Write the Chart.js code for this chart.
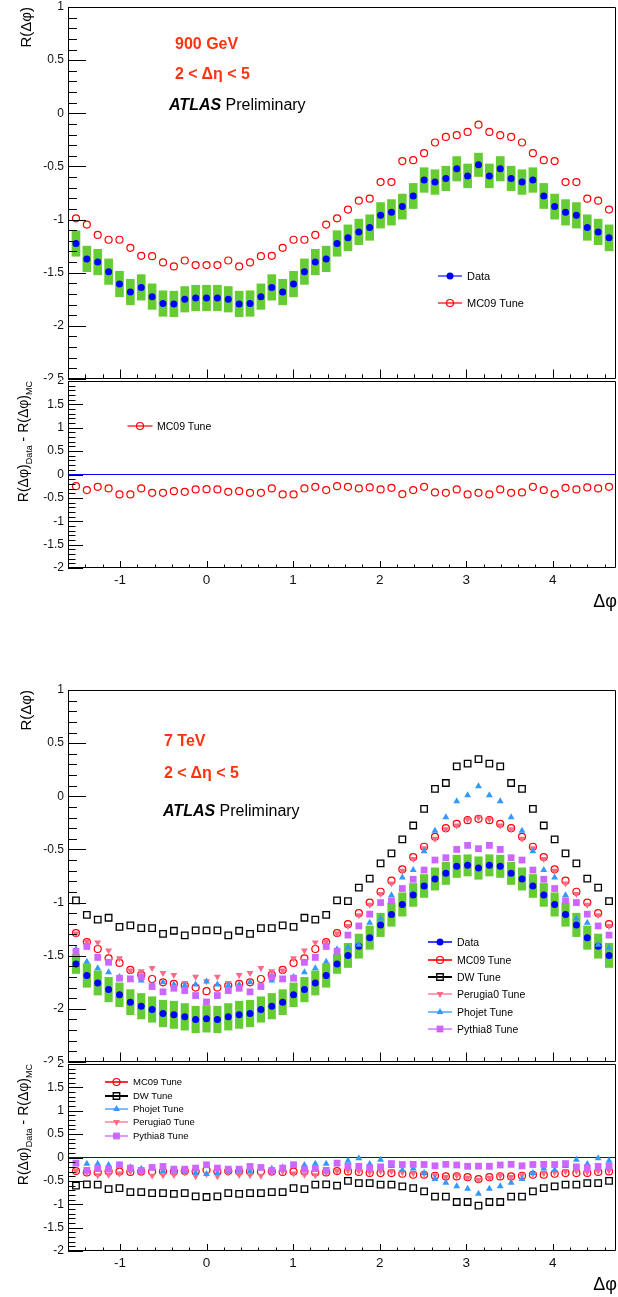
<!DOCTYPE html>
<html>
<head>
<meta charset="utf-8">
<title>R(Δφ) 900 GeV / 7 TeV</title>
<script src="https://cdn.jsdelivr.net/npm/chart.js@4.4.1/dist/chart.umd.min.js"></script>
<style>
  html, body { margin: 0; padding: 0; width: 618px; height: 1297px; overflow: hidden; background: #fff; }
  body { position: relative; font-family: "Liberation Sans", Arial, Helvetica, sans-serif; color: #000; }
  canvas { position: absolute; left: 0; }
  .ytitle { position: absolute; white-space: nowrap; line-height: 1; transform-origin: 0 0;
            transform: rotate(-90deg) translate(-100%, -50%); }
  .ytitle .sub { font-size: 9px; position: relative; top: 4px; }
  .xtitle { position: absolute; white-space: nowrap; line-height: 1; font-size: 18px; transform: translateY(-50%); }
  .note { position: absolute; white-space: nowrap; line-height: 1; font-size: 16px; transform: translateY(-50%); }
  .note.red { color: #ff3311; font-weight: bold; }
  .lg { position: absolute; white-space: nowrap; line-height: 1; transform: translateY(-50%); }
</style>
</head>
<body>

<canvas id="main900" width="618" height="380" style="top:0;width:618px;height:380px"></canvas>
<canvas id="diff900" width="618" height="240" style="top:380px;width:618px;height:240px"></canvas>
<canvas id="main7" width="618" height="380" style="top:683px;width:618px;height:380px"></canvas>
<canvas id="diff7" width="618" height="240" style="top:1063px;width:618px;height:240px"></canvas>

<!-- 900 GeV -->
<div class="ytitle" style="left:25px;top:7px;font-size:15px">R(Δφ)</div>
<div class="ytitle" style="left:23px;top:381px;font-size:14px">R(Δφ)<span class="sub">Data</span> - R(Δφ)<span class="sub">MC</span></div>
<div class="xtitle" style="right:1px;top:601px">Δφ</div>
<div class="note red" style="left:175px;top:44px">900 GeV</div>
<div class="note red" style="left:175px;top:74px">2 &lt; Δη &lt; 5</div>
<div class="note" style="left:169px;top:105px"><b><i>ATLAS</i></b> Preliminary</div>
<div class="lg" style="left:467px;top:276px;font-size:11px">Data</div>
<div class="lg" style="left:467px;top:303px;font-size:11px">MC09 Tune</div>
<div class="lg" style="left:157px;top:426px;font-size:10.5px">MC09 Tune</div>

<!-- 7 TeV -->
<div class="ytitle" style="left:25px;top:690px;font-size:15px">R(Δφ)</div>
<div class="ytitle" style="left:23px;top:1064px;font-size:14px">R(Δφ)<span class="sub">Data</span> - R(Δφ)<span class="sub">MC</span></div>
<div class="xtitle" style="right:1px;top:1284px">Δφ</div>
<div class="note red" style="left:164px;top:741px">7 TeV</div>
<div class="note red" style="left:164px;top:773px">2 &lt; Δη &lt; 5</div>
<div class="note" style="left:163px;top:811px"><b><i>ATLAS</i></b> Preliminary</div>
<div class="lg" style="left:457px;top:942px;font-size:10.5px">Data</div>
<div class="lg" style="left:457px;top:960px;font-size:10.5px">MC09 Tune</div>
<div class="lg" style="left:457px;top:977px;font-size:10.5px">DW Tune</div>
<div class="lg" style="left:457px;top:994px;font-size:10.5px">Perugia0 Tune</div>
<div class="lg" style="left:457px;top:1012px;font-size:10.5px">Phojet Tune</div>
<div class="lg" style="left:457px;top:1029px;font-size:10.5px">Pythia8 Tune</div>
<div class="lg" style="left:133px;top:1082px;font-size:9.5px">MC09 Tune</div>
<div class="lg" style="left:133px;top:1096px;font-size:9.5px">DW Tune</div>
<div class="lg" style="left:133px;top:1109px;font-size:9.5px">Phojet Tune</div>
<div class="lg" style="left:133px;top:1122px;font-size:9.5px">Perugia0 Tune</div>
<div class="lg" style="left:133px;top:1136px;font-size:9.5px">Pythia8 Tune</div>

<script>
// ---- axes ----
const X_MIN = -1.6;
const X_MAX = 4.73;
const xTicks = [-1, 0, 1, 2, 3, 4];
const mainYTicks = [-2.5, -2, -1.5, -1, -0.5, 0, 0.5, 1];
const diffYTicks = [-2, -1.5, -1, -0.5, 0, 0.5, 1, 1.5, 2];

// Δφ bin centres: 50 bins over [-π/2, 3π/2]
const N_BINS = 50;
const BIN_W = 2 * Math.PI / N_BINS;
const phi = Array.from({ length: N_BINS }, (_, i) => -Math.PI / 2 + (i + 0.5) * BIN_W);

// ---- 900 GeV ----
const data900 = [
  -1.225, -1.37, -1.40, -1.49, -1.607, -1.682, -1.638, -1.725, -1.79, -1.794, -1.75, -1.738,
  -1.738, -1.738, -1.75, -1.794, -1.79, -1.725, -1.638, -1.682, -1.607, -1.49, -1.40, -1.37, -1.225,
  -1.172, -1.116, -1.075, -0.96, -0.932, -0.878, -0.778, -0.628, -0.647, -0.613, -0.522, -0.589, -0.485,
  -0.589, -0.522, -0.613, -0.647, -0.628, -0.778, -0.878, -0.932, -0.96, -1.075, -1.116, -1.172
];
const sys900 = [
  0.12, 0.12, 0.12, 0.12, 0.12, 0.12, 0.12, 0.12, 0.12, 0.12, 0.12, 0.12,
  0.12, 0.12, 0.12, 0.12, 0.12, 0.12, 0.12, 0.12, 0.12, 0.12, 0.12, 0.12, 0.12,
  0.122, 0.12, 0.12, 0.12, 0.12, 0.118, 0.118, 0.116, 0.116, 0.115, 0.115, 0.112, 0.11,
  0.112, 0.115, 0.115, 0.116, 0.116, 0.118, 0.118, 0.12, 0.12, 0.12, 0.12, 0.122
];
const mc09_900 = [
  -0.988, -1.047, -1.144, -1.19, -1.19, -1.266, -1.341, -1.344, -1.403, -1.441, -1.385, -1.428,
  -1.428, -1.428, -1.385, -1.441, -1.403, -1.344, -1.341, -1.266, -1.19, -1.19, -1.144, -1.047, -0.988,
  -0.906, -0.822, -0.803, -0.647, -0.647, -0.45, -0.441, -0.375, -0.275, -0.222, -0.206, -0.175, -0.107,
  -0.175, -0.206, -0.222, -0.275, -0.375, -0.441, -0.45, -0.647, -0.647, -0.803, -0.822, -0.906
];
const diffMc09_900 = [
  -0.249, -0.334, -0.263, -0.298, -0.426, -0.426, -0.298, -0.391, -0.391, -0.356, -0.37, -0.32,
  -0.313, -0.32, -0.37, -0.356, -0.391, -0.391, -0.298, -0.426, -0.426, -0.298, -0.263, -0.334, -0.249,
  -0.263, -0.298, -0.277, -0.32, -0.284, -0.419, -0.334, -0.263, -0.384, -0.391, -0.32, -0.426, -0.391,
  -0.426, -0.32, -0.391, -0.384, -0.263, -0.334, -0.419, -0.284, -0.32, -0.277, -0.298, -0.263
];

// ---- 7 TeV ----
const data7 = [
  -1.577, -1.687, -1.756, -1.819, -1.868, -1.937, -1.975, -2.006, -2.044, -2.056, -2.075, -2.1,
  -2.094, -2.1, -2.075, -2.056, -2.044, -2.006, -1.975, -1.937, -1.868, -1.819, -1.756, -1.687, -1.577,
  -1.497, -1.41, -1.33, -1.21, -1.113, -1.018, -0.928, -0.844, -0.778, -0.725, -0.659, -0.65, -0.675,
  -0.65, -0.659, -0.725, -0.778, -0.844, -0.928, -1.018, -1.113, -1.21, -1.33, -1.41, -1.497
];
const sys7 = [
  0.09, 0.11, 0.114, 0.115, 0.112, 0.118, 0.12, 0.12, 0.125, 0.128, 0.125, 0.125,
  0.125, 0.125, 0.125, 0.128, 0.125, 0.12, 0.12, 0.118, 0.112, 0.115, 0.114, 0.11, 0.09,
  0.114, 0.114, 0.11, 0.11, 0.11, 0.11, 0.108, 0.108, 0.105, 0.105, 0.105, 0.10, 0.106,
  0.10, 0.105, 0.105, 0.105, 0.108, 0.108, 0.11, 0.11, 0.11, 0.11, 0.114, 0.114
];
const mc09_7 = [
  -1.287, -1.372, -1.437, -1.525, -1.568, -1.634, -1.681, -1.719, -1.75, -1.765, -1.781, -1.8,
  -1.834, -1.8, -1.781, -1.765, -1.75, -1.719, -1.681, -1.634, -1.568, -1.525, -1.437, -1.372, -1.287,
  -1.203, -1.1, -1.0, -0.898, -0.794, -0.687, -0.572, -0.475, -0.381, -0.3, -0.259, -0.225, -0.212,
  -0.225, -0.259, -0.3, -0.381, -0.475, -0.572, -0.687, -0.794, -0.898, -1.0, -1.1, -1.203
];
const dw7 = [
  -0.98, -1.116, -1.16, -1.143, -1.228, -1.215, -1.24, -1.24, -1.294, -1.265, -1.309, -1.262,
  -1.262, -1.262, -1.309, -1.265, -1.294, -1.24, -1.24, -1.215, -1.228, -1.143, -1.16, -1.116, -0.98,
  -0.987, -0.859, -0.775, -0.631, -0.537, -0.406, -0.275, -0.119, 0.069, 0.125, 0.281, 0.307, 0.35,
  0.307, 0.281, 0.125, 0.069, -0.119, -0.275, -0.406, -0.537, -0.631, -0.775, -0.859, -0.987
];
const perugia0_7 = [
  -1.29, -1.37, -1.375, -1.45, -1.525, -1.64, -1.647, -1.615, -1.662, -1.681, -1.756, -1.697,
  -1.74, -1.697, -1.756, -1.681, -1.662, -1.615, -1.647, -1.64, -1.525, -1.45, -1.375, -1.37, -1.29,
  -1.22, -1.12, -1.02, -0.92, -0.82, -0.70, -0.59, -0.49, -0.40, -0.31, -0.276, -0.216, -0.20,
  -0.216, -0.276, -0.31, -0.40, -0.49, -0.59, -0.70, -0.82, -0.92, -1.02, -1.12, -1.22
];
const phojet7 = [
  -1.44, -1.556, -1.618, -1.656, -1.70, -1.725, -1.734, -1.78, -1.75, -1.77, -1.78, -1.77,
  -1.743, -1.77, -1.78, -1.77, -1.75, -1.78, -1.734, -1.725, -1.70, -1.656, -1.618, -1.556, -1.44,
  -1.424, -1.397, -1.19, -1.15, -0.93, -0.765, -0.694, -0.518, -0.325, -0.197, -0.047, 0.009, 0.094,
  0.009, -0.047, -0.197, -0.325, -0.518, -0.694, -0.765, -0.93, -1.15, -1.19, -1.397, -1.424
];
const pythia8_7 = [
  -1.458, -1.413, -1.516, -1.562, -1.712, -1.718, -1.70, -1.79, -1.84, -1.806, -1.828, -1.875,
  -1.935, -1.875, -1.828, -1.806, -1.84, -1.79, -1.70, -1.718, -1.712, -1.562, -1.516, -1.413, -1.458,
  -1.306, -1.22, -1.109, -1.0, -0.984, -0.868, -0.781, -0.694, -0.6, -0.578, -0.5, -0.462, -0.493,
  -0.462, -0.5, -0.578, -0.6, -0.694, -0.781, -0.868, -0.984, -1.0, -1.109, -1.22, -1.306
];
const diffMc09_7 = [
  -0.29, -0.32, -0.32, -0.3, -0.3, -0.31, -0.3, -0.3, -0.3, -0.3, -0.29, -0.3,
  -0.27, -0.3, -0.29, -0.3, -0.3, -0.3, -0.3, -0.31, -0.3, -0.3, -0.32, -0.32, -0.29,
  -0.298, -0.31, -0.33, -0.334, -0.334, -0.348, -0.369, -0.369, -0.39, -0.405, -0.405, -0.42, -0.462,
  -0.42, -0.405, -0.405, -0.39, -0.369, -0.369, -0.348, -0.334, -0.334, -0.33, -0.31, -0.298
];
const diffDw7 = [
  -0.6, -0.575, -0.582, -0.675, -0.653, -0.739, -0.739, -0.76, -0.76, -0.78, -0.76, -0.83,
  -0.845, -0.83, -0.76, -0.78, -0.76, -0.76, -0.739, -0.739, -0.653, -0.675, -0.582, -0.575, -0.6,
  -0.5, -0.547, -0.547, -0.582, -0.582, -0.618, -0.653, -0.724, -0.835, -0.835, -0.952, -0.952, -1.03,
  -0.952, -0.952, -0.835, -0.835, -0.724, -0.653, -0.618, -0.582, -0.582, -0.547, -0.547, -0.5
];
const diffPhojet7 = [
  -0.135, -0.135, -0.135, -0.16, -0.168, -0.21, -0.24, -0.226, -0.294, -0.286, -0.295, -0.33,
  -0.355, -0.33, -0.295, -0.286, -0.294, -0.226, -0.24, -0.21, -0.168, -0.16, -0.135, -0.135, -0.135,
  -0.07, -0.014, -0.14, -0.05, -0.18, -0.27, -0.234, -0.33, -0.46, -0.54, -0.615, -0.67, -0.774,
  -0.67, -0.615, -0.54, -0.46, -0.33, -0.234, -0.27, -0.18, -0.05, -0.14, -0.014, -0.07
];
const diffPerugia0_7 = [
  -0.287, -0.317, -0.381, -0.369, -0.343, -0.297, -0.328, -0.391, -0.382, -0.375, -0.319, -0.403,
  -0.354, -0.403, -0.319, -0.375, -0.382, -0.391, -0.328, -0.297, -0.343, -0.369, -0.381, -0.317, -0.287,
  -0.277, -0.29, -0.31, -0.29, -0.293, -0.318, -0.338, -0.354, -0.378, -0.415, -0.383, -0.434, -0.475,
  -0.434, -0.383, -0.415, -0.378, -0.354, -0.338, -0.318, -0.293, -0.29, -0.31, -0.29, -0.277
];
const diffPythia8_7 = [
  -0.121, -0.275, -0.238, -0.25, -0.156, -0.227, -0.277, -0.213, -0.192, -0.249, -0.249, -0.227,
  -0.156, -0.227, -0.249, -0.249, -0.192, -0.213, -0.277, -0.227, -0.156, -0.25, -0.238, -0.275, -0.121,
  -0.19, -0.19, -0.22, -0.2, -0.13, -0.15, -0.147, -0.15, -0.178, -0.147, -0.16, -0.188, -0.185,
  -0.188, -0.16, -0.147, -0.178, -0.15, -0.147, -0.15, -0.13, -0.2, -0.22, -0.19, -0.19
];

// ---- styles ----
const FONT = '"Liberation Sans", Arial, Helvetica, sans-serif';
const GREEN = '#66cc33';
const CLEAR = 'rgba(0,0,0,0)';

const STYLE = {
  data:     { pointStyle: 'circle', pointRadius: 3.5, backgroundColor: '#0000ff', borderColor: '#0000ff', borderWidth: 0, legendLine: '#4040ff' },
  mc09:     { pointStyle: 'circle', pointRadius: 3.5, backgroundColor: CLEAR, borderColor: '#ff0000', borderWidth: 1.2, legendLine: '#ff3030' },
  dw:       { pointStyle: 'rect', pointRadius: 4.6, backgroundColor: CLEAR, borderColor: '#000000', borderWidth: 1.3, legendLine: '#000000' },
  perugia0: { pointStyle: 'triangle', pointRotation: 180, pointRadius: 4, backgroundColor: '#ff6a8a', borderColor: '#ff6a8a', borderWidth: 0, legendLine: '#ffa0b4' },
  phojet:   { pointStyle: 'triangle', pointRadius: 4, backgroundColor: '#3399ff', borderColor: '#3399ff', borderWidth: 0, legendLine: '#7dbdff' },
  pythia8:  { pointStyle: 'rect', pointRadius: 4.8, backgroundColor: '#cc66ff', borderColor: '#cc66ff', borderWidth: 0, legendLine: '#dd99ff' }
};

const fmt = v => String(Math.round(v * 100) / 100);
const points = values => phi.map((x, i) => ({ x, y: values[i] }));
const boxes = (values, err) => phi.map((x, i) => ({ x, y: [values[i] - err[i], values[i] + err[i]] }));

function markers(label, values, style, order) {
  return Object.assign({ type: 'scatter', label, data: points(values), order, showLine: false,
                         pointHoverRadius: style.pointRadius }, style);
}

// frame with ticks drawn inside, like the usual physics plot style
const rootAxes = {
  id: 'rootAxes',
  afterDatasetsDraw(chart, args, o) {
    const { ctx, chartArea: a, scales: { x, y } } = chart;
    const eps = 1e-6;
    ctx.save();
    ctx.strokeStyle = '#000';
    ctx.lineWidth = 1;
    ctx.beginPath();
    ctx.rect(a.left + 0.5, a.top + 0.5, a.right - a.left - 1, a.bottom - a.top - 1);
    // left axis
    const ny = Math.round((y.max - y.min) / 0.1);
    for (let k = 0; k <= ny; k++) {
      const v = y.min + k * 0.1;
      const major = Math.abs(v / 0.5 - Math.round(v / 0.5)) < eps;
      const py = Math.round(y.getPixelForValue(v)) + 0.5;
      ctx.moveTo(a.left, py);
      ctx.lineTo(a.left + (major ? o.yMajor : o.yMinor), py);
    }
    // bottom axis
    for (let v = Math.ceil(x.min / 0.2 - eps) * 0.2; v <= x.max + eps; v += 0.2) {
      const major = Math.abs(v - Math.round(v)) < eps;
      const px = Math.round(x.getPixelForValue(v)) + 0.5;
      ctx.moveTo(px, a.bottom);
      ctx.lineTo(px, a.bottom - (major ? o.xMajor : o.xMinor));
    }
    ctx.stroke();
    ctx.restore();
  }
};

// legend symbols (line + marker); the labels are html text next to them
const legendMarks = {
  id: 'legendMarks',
  afterDraw(chart, args, o) {
    const ctx = chart.ctx;
    (o.items || []).forEach(it => {
      const ds = chart.data.datasets.find(d => d.label === it.label);
      if (!ds) return;
      ctx.save();
      ctx.strokeStyle = ds.legendLine || ds.borderColor;
      ctx.lineWidth = o.lineWidth || 1.5;
      ctx.beginPath();
      ctx.moveTo(it.x - o.half, it.y);
      ctx.lineTo(it.x + o.half, it.y);
      ctx.stroke();
      ctx.fillStyle = ds.backgroundColor;
      ctx.strokeStyle = ds.borderColor;
      ctx.lineWidth = ds.borderWidth;
      Chart.helpers.drawPoint(ctx, {
        pointStyle: ds.pointStyle, rotation: ds.pointRotation || 0,
        radius: ds.pointRadius, borderWidth: ds.borderWidth
      }, it.x, it.y);
      ctx.restore();
    });
  }
};

function yScale(min, max, ticks) {
  return {
    type: 'linear', min, max,
    grid: { display: false, drawTicks: false },
    border: { display: false },
    ticks: { color: '#111', font: { family: FONT, size: 12 }, padding: 4, autoSkip: false, callback: fmt },
    afterBuildTicks: s => { s.ticks = ticks.map(value => ({ value })); },
    afterFit: s => { s.width = 68; s.paddingTop = 0; s.paddingBottom = 0; }
  };
}

function baseOptions(padding, scales, ticks, legend) {
  return {
    responsive: false,
    animation: false,
    devicePixelRatio: 1,
    events: [],
    layout: { autoPadding: false, padding },
    plugins: { legend: { display: false }, tooltip: { enabled: false }, rootAxes: ticks, legendMarks: legend },
    scales
  };
}

function mainChart(id, datasets, legend) {
  return new Chart(document.getElementById(id), {
    type: 'scatter',
    data: { datasets },
    options: baseOptions(
      { left: 0, right: 2, top: 7, bottom: 1 },
      // offset off: the bar dataset would otherwise pad the linear axis
      { x: { type: 'linear', min: X_MIN, max: X_MAX, offset: false, display: false }, y: yScale(-2.5, 1, mainYTicks) },
      { yMajor: 18, yMinor: 9, xMajor: 9.5, xMinor: 4.7 },
      legend),
    plugins: [rootAxes, legendMarks]
  });
}

function diffChart(id, datasets, legend) {
  const zero = { type: 'line', label: 'zero', data: [{ x: X_MIN, y: 0 }, { x: X_MAX, y: 0 }],
                 borderColor: '#0000ff', borderWidth: 1, pointRadius: 0, showLine: true, order: 20 };
  return new Chart(document.getElementById(id), {
    type: 'scatter',
    data: { datasets: [zero].concat(datasets) },
    options: baseOptions(
      { left: 0, right: 2, top: 1, bottom: 0 },
      {
        x: {
          type: 'linear', min: X_MIN, max: X_MAX, offset: false,
          grid: { display: false, drawTicks: false },
          border: { display: false },
          ticks: { color: '#111', font: { family: FONT, size: 13.5 }, padding: 4, maxRotation: 0, autoSkip: false, callback: fmt },
          afterBuildTicks: s => { s.ticks = xTicks.map(value => ({ value })); },
          afterFit: s => { s.height = 52; s.paddingLeft = 0; s.paddingRight = 0; }
        },
        y: yScale(-2, 2, diffYTicks)
      },
      { yMajor: 15, yMinor: 7.5, xMajor: 7, xMinor: 3.5 },
      legend),
    plugins: [rootAxes, legendMarks]
  });
}

// ---- 900 GeV pads ----
mainChart('main900', [
  { type: 'bar', label: 'syst', data: boxes(data900, sys900), backgroundColor: GREEN, borderWidth: 0, barThickness: 8, order: 10 },
  markers('Data', data900, STYLE.data, 6),
  markers('MC09 Tune', mc09_900, STYLE.mc09, 5)
], { half: 12, items: [
  { label: 'Data', x: 450, y: 276 },
  { label: 'MC09 Tune', x: 450, y: 303 }
] });

diffChart('diff900', [
  markers('MC09 Tune', diffMc09_900, STYLE.mc09, 5)
], { half: 12.5, items: [{ label: 'MC09 Tune', x: 140, y: 46 }] });

// ---- 7 TeV pads ----
mainChart('main7', [
  { type: 'bar', label: 'syst', data: boxes(data7, sys7), backgroundColor: GREEN, borderWidth: 0, barThickness: 7.5, order: 10 },
  markers('Data', data7, STYLE.data, 6),
  markers('MC09 Tune', mc09_7, STYLE.mc09, 5),
  markers('DW Tune', dw7, STYLE.dw, 4),
  markers('Perugia0 Tune', perugia0_7, STYLE.perugia0, 3),
  markers('Phojet Tune', phojet7, STYLE.phojet, 2),
  markers('Pythia8 Tune', pythia8_7, STYLE.pythia8, 1)
], { half: 12, lineWidth: 2, items: [
  { label: 'Data', x: 440, y: 259 },
  { label: 'MC09 Tune', x: 440, y: 277 },
  { label: 'DW Tune', x: 440, y: 294 },
  { label: 'Perugia0 Tune', x: 440, y: 311 },
  { label: 'Phojet Tune', x: 440, y: 329 },
  { label: 'Pythia8 Tune', x: 440, y: 346 }
] });

diffChart('diff7', [
  markers('MC09 Tune', diffMc09_7, STYLE.mc09, 5),
  markers('DW Tune', diffDw7, STYLE.dw, 4),
  markers('Perugia0 Tune', diffPerugia0_7, STYLE.perugia0, 3),
  markers('Phojet Tune', diffPhojet7, STYLE.phojet, 2),
  markers('Pythia8 Tune', diffPythia8_7, STYLE.pythia8, 1)
], { half: 11.5, lineWidth: 2, items: [
  { label: 'MC09 Tune', x: 116.5, y: 19 },
  { label: 'DW Tune', x: 116.5, y: 33 },
  { label: 'Phojet Tune', x: 116.5, y: 46 },
  { label: 'Perugia0 Tune', x: 116.5, y: 59 },
  { label: 'Pythia8 Tune', x: 116.5, y: 73 }
] });
</script>
</body>
</html>
